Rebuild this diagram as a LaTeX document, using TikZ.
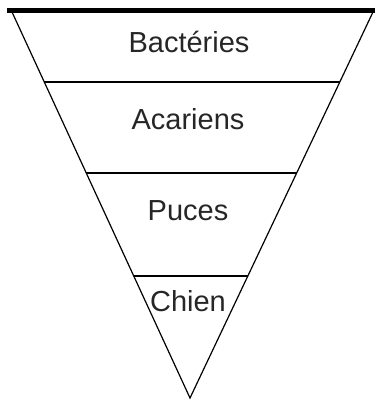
\documentclass[tikz,border=0pt]{standalone}
\usepackage{fontspec}
\setmainfont{Liberation Sans}
\usetikzlibrary{calc}

\begin{document}
\begin{tikzpicture}[
        x=1pt, y=-1pt,
        rim/.style={line width=5pt, line cap=butt},
        side/.style={line width=1.2pt},
        divider/.style={line width=1.8pt},
        layer/.style={anchor=base, text=black!85, font=\fontsize{29}{34}\selectfont}
    ]
        \useasboundingbox (0,0) rectangle (375,403);
        % Corners of the funnel
        \coordinate (tl) at (12,12);
        \coordinate (tr) at (373,12);
        \coordinate (apex) at (190,398);
        \coordinate (rimL) at (7,10.5);
        \coordinate (rimR) at (375,10.5);
        % Ends of the dividers
        \foreach \name/\t in {a/0.181, b/0.418, c/0.683} {
            \coordinate (\name L) at ($(tl)!\t!(apex)$);
            \coordinate (\name R) at ($(tr)!\t!(apex)$);
        }
        % Outline
        \draw[side] (tl) -- (apex) -- (tr);
        \draw[rim] (rimL) -- (rimR);
        \draw[divider] (aL) -- (aR);
        \draw[divider] (bL) -- (bR);
        \draw[divider] (cL) -- (cR);
        % Labels
        \node[layer] (bacteries) at (189,53) {Bactéries};
        \node[layer] (acariens) at (188,129.5) {Acariens};
        \node[layer] (puces) at (188,220) {Puces};
        \node[layer] (chien) at (188,311) {Chien};
    \end{tikzpicture}
\end{document}
